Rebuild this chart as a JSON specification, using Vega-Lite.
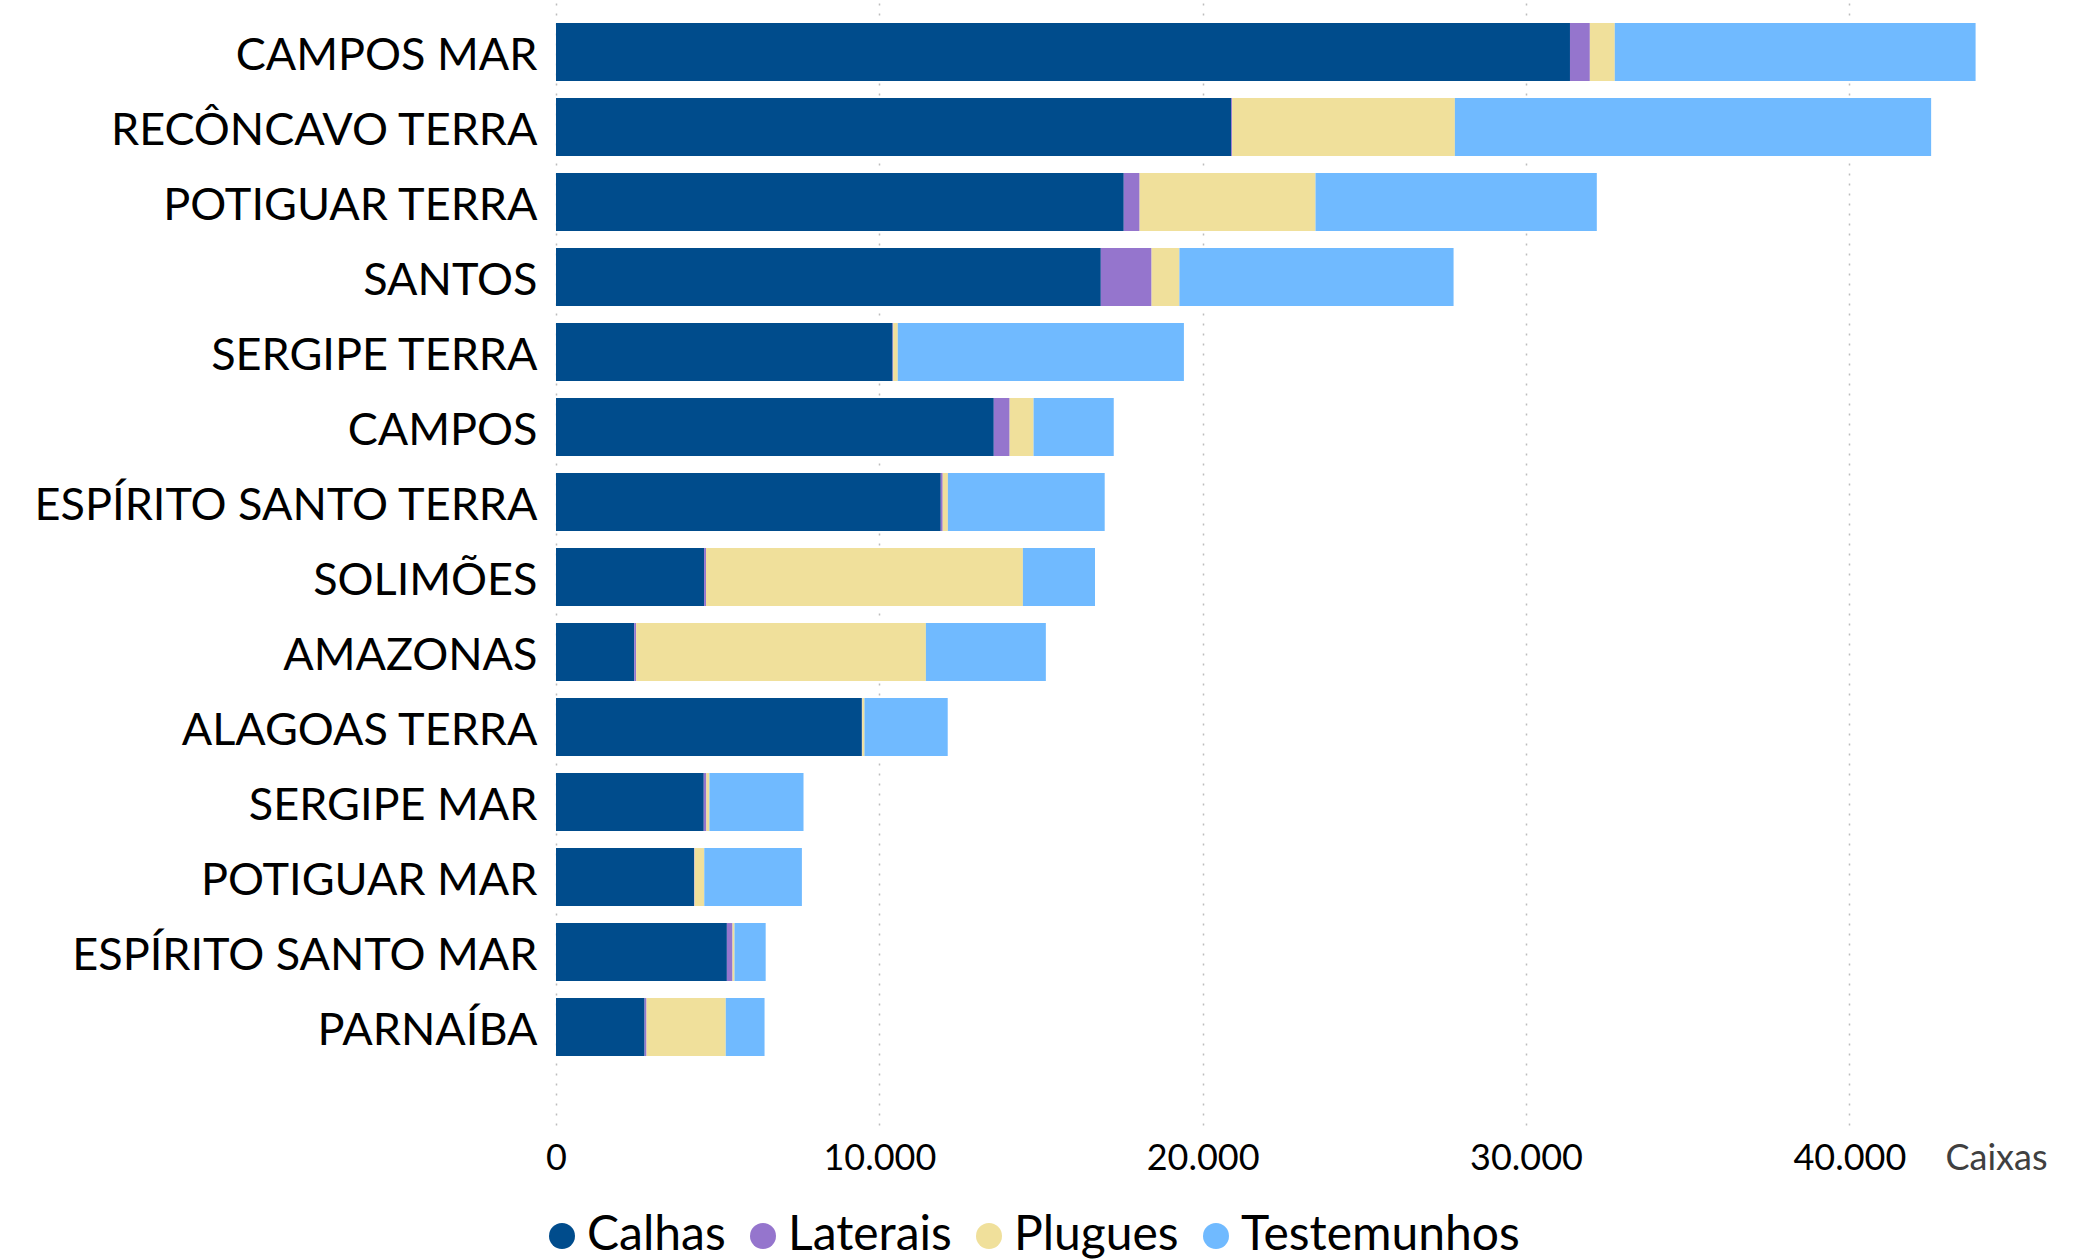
{
  "$schema": "https://vega.github.io/schema/vega-lite/v6.json",
  "autosize": "none",
  "padding": {"left": 556, "top": 0, "right": 85, "bottom": 134},
  "width": 1455,
  "height": 1125,
  "background": "white",
  "data": {
    "values": [
      {"bacia": "CAMPOS MAR", "tipo": "Calhas", "caixas": 31360},
      {"bacia": "CAMPOS MAR", "tipo": "Laterais", "caixas": 615},
      {"bacia": "CAMPOS MAR", "tipo": "Plugues", "caixas": 770},
      {"bacia": "CAMPOS MAR", "tipo": "Testemunhos", "caixas": 11160},
      {"bacia": "RECÔNCAVO TERRA", "tipo": "Calhas", "caixas": 20880},
      {"bacia": "RECÔNCAVO TERRA", "tipo": "Laterais", "caixas": 30},
      {"bacia": "RECÔNCAVO TERRA", "tipo": "Plugues", "caixas": 6890},
      {"bacia": "RECÔNCAVO TERRA", "tipo": "Testemunhos", "caixas": 14730},
      {"bacia": "POTIGUAR TERRA", "tipo": "Calhas", "caixas": 17560},
      {"bacia": "POTIGUAR TERRA", "tipo": "Laterais", "caixas": 490},
      {"bacia": "POTIGUAR TERRA", "tipo": "Plugues", "caixas": 5440},
      {"bacia": "POTIGUAR TERRA", "tipo": "Testemunhos", "caixas": 8700},
      {"bacia": "SANTOS", "tipo": "Calhas", "caixas": 16850},
      {"bacia": "SANTOS", "tipo": "Laterais", "caixas": 1570},
      {"bacia": "SANTOS", "tipo": "Plugues", "caixas": 860},
      {"bacia": "SANTOS", "tipo": "Testemunhos", "caixas": 8480},
      {"bacia": "SERGIPE TERRA", "tipo": "Calhas", "caixas": 10410},
      {"bacia": "SERGIPE TERRA", "tipo": "Laterais", "caixas": 20},
      {"bacia": "SERGIPE TERRA", "tipo": "Plugues", "caixas": 140},
      {"bacia": "SERGIPE TERRA", "tipo": "Testemunhos", "caixas": 8850},
      {"bacia": "CAMPOS", "tipo": "Calhas", "caixas": 13540},
      {"bacia": "CAMPOS", "tipo": "Laterais", "caixas": 490},
      {"bacia": "CAMPOS", "tipo": "Plugues", "caixas": 740},
      {"bacia": "CAMPOS", "tipo": "Testemunhos", "caixas": 2480},
      {"bacia": "ESPÍRITO SANTO TERRA", "tipo": "Calhas", "caixas": 11900},
      {"bacia": "ESPÍRITO SANTO TERRA", "tipo": "Laterais", "caixas": 60},
      {"bacia": "ESPÍRITO SANTO TERRA", "tipo": "Plugues", "caixas": 160},
      {"bacia": "ESPÍRITO SANTO TERRA", "tipo": "Testemunhos", "caixas": 4850},
      {"bacia": "SOLIMÕES", "tipo": "Calhas", "caixas": 4580},
      {"bacia": "SOLIMÕES", "tipo": "Laterais", "caixas": 60},
      {"bacia": "SOLIMÕES", "tipo": "Plugues", "caixas": 9800},
      {"bacia": "SOLIMÕES", "tipo": "Testemunhos", "caixas": 2230},
      {"bacia": "AMAZONAS", "tipo": "Calhas", "caixas": 2420},
      {"bacia": "AMAZONAS", "tipo": "Laterais", "caixas": 60},
      {"bacia": "AMAZONAS", "tipo": "Plugues", "caixas": 8960},
      {"bacia": "AMAZONAS", "tipo": "Testemunhos", "caixas": 3710},
      {"bacia": "ALAGOAS TERRA", "tipo": "Calhas", "caixas": 9460},
      {"bacia": "ALAGOAS TERRA", "tipo": "Laterais", "caixas": 10},
      {"bacia": "ALAGOAS TERRA", "tipo": "Plugues", "caixas": 70},
      {"bacia": "ALAGOAS TERRA", "tipo": "Testemunhos", "caixas": 2575},
      {"bacia": "SERGIPE MAR", "tipo": "Calhas", "caixas": 4570},
      {"bacia": "SERGIPE MAR", "tipo": "Laterais", "caixas": 80},
      {"bacia": "SERGIPE MAR", "tipo": "Plugues", "caixas": 95},
      {"bacia": "SERGIPE MAR", "tipo": "Testemunhos", "caixas": 2910},
      {"bacia": "POTIGUAR MAR", "tipo": "Calhas", "caixas": 4270},
      {"bacia": "POTIGUAR MAR", "tipo": "Laterais", "caixas": 15},
      {"bacia": "POTIGUAR MAR", "tipo": "Plugues", "caixas": 300},
      {"bacia": "POTIGUAR MAR", "tipo": "Testemunhos", "caixas": 3020},
      {"bacia": "ESPÍRITO SANTO MAR", "tipo": "Calhas", "caixas": 5285},
      {"bacia": "ESPÍRITO SANTO MAR", "tipo": "Laterais", "caixas": 175},
      {"bacia": "ESPÍRITO SANTO MAR", "tipo": "Plugues", "caixas": 60},
      {"bacia": "ESPÍRITO SANTO MAR", "tipo": "Testemunhos", "caixas": 965},
      {"bacia": "PARNAÍBA", "tipo": "Calhas", "caixas": 2740},
      {"bacia": "PARNAÍBA", "tipo": "Laterais", "caixas": 60},
      {"bacia": "PARNAÍBA", "tipo": "Plugues", "caixas": 2450},
      {"bacia": "PARNAÍBA", "tipo": "Testemunhos", "caixas": 1200}
    ]
  },
  "mark": {"type": "bar"},
  "encoding": {
    "y": {
      "field": "bacia",
      "type": "nominal",
      "sort": ["CAMPOS MAR", "RECÔNCAVO TERRA", "POTIGUAR TERRA", "SANTOS", "SERGIPE TERRA", "CAMPOS", "ESPÍRITO SANTO TERRA", "SOLIMÕES", "AMAZONAS", "ALAGOAS TERRA", "SERGIPE MAR", "POTIGUAR MAR", "ESPÍRITO SANTO MAR", "PARNAÍBA"],
      "scale": {"paddingInner": 0.227, "paddingOuter": 0.613, "align": 0.25},
      "axis": {
        "title": null,
        "domain": false,
        "ticks": false,
        "tickSize": 0,
        "grid": false,
        "labelPadding": 19,
        "labelOffset": 4,
        "labelFont": "Lato",
        "labelFontSize": 45,
        "labelColor": "#000000",
        "labelLimit": 1000,
        "labelBaseline": "middle"
      }
    },
    "x": {
      "field": "caixas",
      "type": "quantitative",
      "stack": "zero",
      "scale": {"domain": [0, 45000], "nice": false},
      "axis": {
        "title": "Caixas",
        "values": [0, 10000, 20000, 30000, 40000],
        "labelExpr": "replace(format(datum.value, ','), ',', '.')",
        "domain": false,
        "ticks": false,
        "tickSize": 0,
        "labelFlush": false,
        "labelFont": "Lato",
        "labelFontSize": 36,
        "labelColor": "#000000",
        "labelBaseline": "middle",
        "labelPadding": 33,
        "grid": true,
        "gridColor": "#bdbdbd",
        "gridDash": [2, 8],
        "gridWidth": 1.5,
        "titleFont": "Lato",
        "titleFontSize": 36,
        "titleFontWeight": "normal",
        "titleColor": "#404040",
        "titleX": 1440,
        "titleY": 33,
        "titleAlign": "center",
        "titleBaseline": "middle",
        "titleAngle": 0
      }
    },
    "color": {
      "field": "tipo",
      "type": "nominal",
      "scale": {
        "domain": ["Calhas", "Laterais", "Plugues", "Testemunhos"],
        "range": ["#004C8C", "#9575CD", "#F0E09B", "#70BAFF"]
      },
      "legend": {
        "title": null,
        "orient": "none",
        "direction": "horizontal",
        "legendX": -18,
        "legendY": 1212,
        "symbolType": "circle",
        "symbolSize": 676,
        "symbolStrokeWidth": 0,
        "symbolOpacity": 1,
        "labelFont": "Lato",
        "labelFontSize": 48,
        "labelColor": "#000000",
        "labelLimit": 1000,
        "labelOffset": 1,
        "columnPadding": 13,
        "labelBaseline": "middle"
      }
    }
  },
  "config": {
    "view": {"stroke": null}
  }
}
